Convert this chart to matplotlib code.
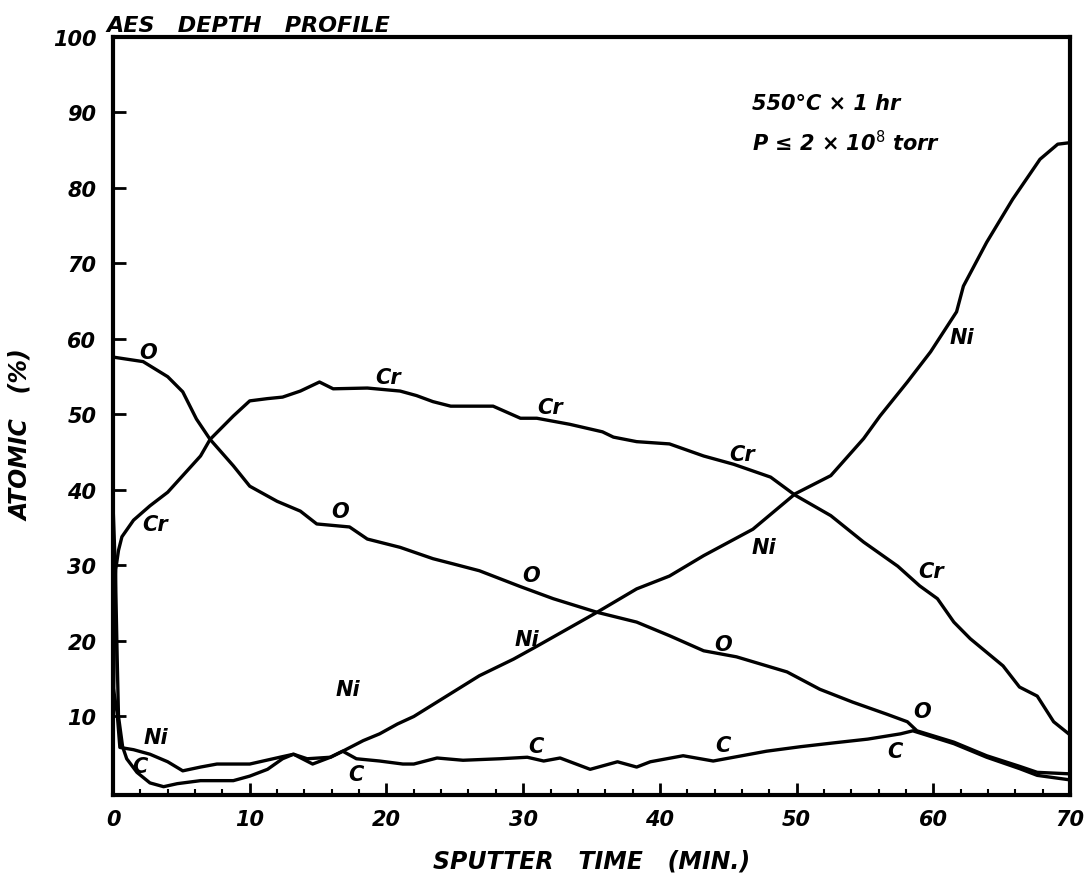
import numpy as np
import matplotlib
matplotlib.use("Agg")
import matplotlib.pyplot as plt
from matplotlib.ticker import MultipleLocator

# values (sputter time in min, atomic %)
o_x = [0, 2.2, 4, 5.1, 6.1, 7.1, 8.8, 10, 12, 13.7, 14.9, 17.3, 18.6, 21, 23.4, 24.9,
       26.8, 29.8, 32.2, 35.4, 38.3, 40.7, 43.2, 45.6, 49.3, 51.7, 54.1, 56.6, 58.1,
       58.8, 61.5, 63.9, 66.3, 67.6, 70]
o_y = [57.6, 57, 55, 53, 49.4, 46.7, 43.2, 40.5, 38.5, 37.2, 35.5, 35.1, 33.5, 32.4,
       30.9, 30.2, 29.3, 27.2, 25.6, 23.8, 22.5, 20.7, 18.7, 17.9, 15.9, 13.6, 11.9,
       10.3, 9.3, 8.1, 6.6, 4.8, 3.4, 2.6, 2.4]

cr_x = [0, 0.1, 0.2, 0.4, 0.65, 1.5, 2.7, 4, 5.1, 6.4, 7.1, 8.8, 10, 11.3, 12.4, 13.7,
        15.1, 16.1, 18.6, 21, 22.2, 23.4, 24.7, 27.8, 29.8, 31, 33.4, 35.8, 36.6, 38.3,
        40.7, 43.2, 45.4, 48.1, 49.9, 52.5, 54.9, 57.4, 59, 60.3, 61.5, 62.7, 65.1,
        66.3, 67.6, 68.8, 69.9]
cr_y = [8, 20, 29.5, 32, 33.8, 36, 37.9, 39.7, 41.9, 44.5, 46.7, 49.8, 51.8, 52.1, 52.3,
        53.1, 54.3, 53.4, 53.5, 53.1, 52.5, 51.7, 51.1, 51.1, 49.5, 49.5, 48.7, 47.7,
        47, 46.4, 46.1, 44.5, 43.4, 41.7, 39.3, 36.6, 33.1, 29.9, 27.3, 25.6, 22.5,
        20.3, 16.7, 13.9, 12.7, 9.3, 7.7]

ni_x = [0, 0.3, 0.5, 1.5, 2.7, 4, 5.1, 6.4, 7.6, 10, 12.2, 13.2, 14.6, 15.9, 16.8, 18.3,
        19.5, 20.8, 22, 24.4, 26.8, 29.3, 31, 35.4, 38.3, 40.7, 43.2, 46.8, 49.9, 52.5,
        54.9, 56.1, 58.1, 59.8, 61.7, 62.2, 63.9, 65.8, 67.8, 69.1, 70]
ni_y = [14, 10.5, 5.9, 5.6, 5, 4, 2.8, 3.3, 3.7, 3.7, 4.6, 5.0, 3.7, 4.6, 5.4, 6.8, 7.7,
        9, 10, 12.7, 15.4, 17.6, 19.3, 23.8, 26.9, 28.6, 31.3, 34.8, 39.5, 41.9, 46.8,
        49.8, 54.3, 58.3, 63.6, 67, 72.8, 78.5, 83.8, 85.8, 86]

c_x = [0, 0.1, 0.2, 0.3, 0.4, 0.7, 1.0, 1.75, 2.7, 3.7, 4.7, 6.4, 8.8, 10, 11.3, 12.4,
       13.2, 14.2, 15.9, 16.8, 17.8, 19.5, 21.2, 22, 23.7, 25.6, 28.3, 30.3, 31.5, 32.7,
       34.9, 36.9, 38.3, 39.3, 41.7, 43.9, 46.6, 47.8, 50.3, 52.7, 55.2, 57.6, 58.5,
       61.5, 63.9, 66.3, 67.6, 70]
c_y = [38, 33, 27, 18, 10, 6, 4.4, 2.6, 1.2, 0.7, 1.1, 1.5, 1.5, 2.1, 3, 4.4, 5.0, 4.4,
       4.6, 5.4, 4.4, 4.1, 3.7, 3.7, 4.5, 4.2, 4.4, 4.6, 4.1, 4.5, 3, 4, 3.3, 4, 4.8,
       4.1, 5, 5.4, 6, 6.5, 7, 7.7, 8.1, 6.4, 4.6, 3.1, 2.2, 1.6]

# curve labels: (text, x, y)
labels = [("O", 2.6, 58.3), ("Cr", 3.1, 35.5), ("Cr", 20.1, 55.0), ("O", 16.6, 37.2),
          ("Cr", 32.0, 51.0), ("O", 30.6, 28.7), ("Ni", 30.3, 20.3), ("Cr", 46.0, 44.8),
          ("Ni", 47.6, 32.5), ("Cr", 59.8, 29.3), ("Ni", 62.1, 60.3), ("O", 44.6, 19.6),
          ("O", 59.2, 10.7), ("C", 57.2, 5.4), ("C", 44.6, 6.2), ("C", 30.9, 6.1),
          ("Ni", 17.2, 13.6), ("C", 17.8, 2.4), ("Ni", 3.1, 7.3), ("C", 2.0, 3.4)]

hand = dict(fontstyle="oblique", fontweight="bold", family="DejaVu Sans")

fig = plt.figure(figsize=(10.91, 8.87), dpi=100)
ax = fig.add_axes([0.1036, 0.1026, 0.8772, 0.8546])

for xs, ys in [(o_x, o_y), (cr_x, cr_y), (ni_x, ni_y), (c_x, c_y)]:
    ax.plot(xs, ys, color="black", lw=2.4, solid_joinstyle="round")

for txt, lx, ly in labels:
    ax.text(lx, ly, txt, ha="center", va="center", fontsize=15, **hand)

ax.set_xlim(0, 70)
ax.set_ylim(-0.4, 100)
ax.set_xticks(range(0, 71, 10))
ax.set_yticks(range(10, 101, 10))
ax.xaxis.set_minor_locator(MultipleLocator(2))
ax.tick_params(which="major", direction="in", length=9, width=2, pad=12)
ax.tick_params(axis="x", which="major", pad=10)
ax.tick_params(which="minor", direction="in", length=4, width=1.5)
for lab in ax.get_xticklabels() + ax.get_yticklabels():
    lab.set_fontsize(15)
    lab.set_fontstyle("oblique")
    lab.set_fontweight("bold")
for sp in ax.spines.values():
    sp.set_linewidth(3)

ax.set_xlabel("SPUTTER   TIME   (MIN.)", fontsize=17, labelpad=14, **hand)
ax.set_ylabel("ATOMIC   (%)", fontsize=17, **hand)
ax.yaxis.set_label_coords(-0.084, 0.476)

ax.text(-0.5, 100.3, "AES   DEPTH   PROFILE", ha="left", va="bottom", fontsize=16,
        clip_on=False, **hand)
ax.text(46.7, 91.3, "550°C × 1 hr", ha="left", va="center", fontsize=15, **hand)
ax.text(46.7, 86.2, "P ≤ 2 × 10$^{8}$ torr", ha="left", va="center", fontsize=15, **hand)

fig.savefig("out.png", dpi=100)
